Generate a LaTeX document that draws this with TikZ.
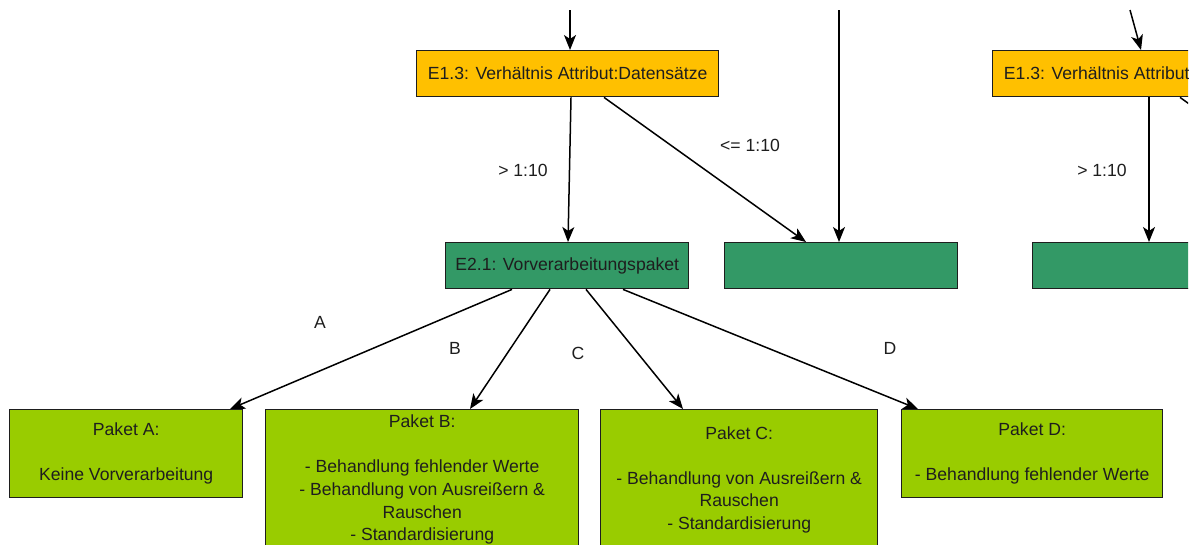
\documentclass[tikz,border=0pt]{standalone}
\usepackage{fontspec}
\setmainfont{Liberation Sans}
\usetikzlibrary{arrows.meta}
\definecolor{gold}{HTML}{FFC000}
\definecolor{teal}{HTML}{339966}
\definecolor{lime}{HTML}{99CC00}
\definecolor{ink}{HTML}{1E1E1E}
\tikzset{
  box/.style={draw=ink, line width=1.4pt, anchor=north west, inner sep=0pt, align=center,
    text=ink, font=\fontsize{17.6}{22.6}\selectfont},
  gbox/.style={box, fill=gold, minimum height=46pt},
  tbox/.style={box, fill=teal, minimum height=46pt},
  lbox/.style={box, fill=lime},
  arr/.style={draw=black, line width=1.5pt, -{Stealth[length=15pt,width=12pt,inset=4pt]}},
  lbl/.style={text=ink, font=\fontsize{17.6}{22}\selectfont, inner sep=0pt}
}
\begin{document}
\begin{tikzpicture}[x=1pt,y=-1pt]
\useasboundingbox (0,0) rectangle (1198,544);
\fill[white] (0,0) rectangle (1198,544);
\clip (0,0) rectangle (1188,544);
% top-level nodes
\node[gbox, minimum width=302pt] (e13L) at (416,50) {E1.3: Verhältnis Attribut:Datensätze};
\node[gbox, minimum width=302pt] (e13R) at (992,50) {E1.3: Verhältnis Attribut:Datensätze};
\node[tbox, minimum width=243pt] (e21) at (445,242) {E2.1: Vorverarbeitungspaket};
\node[tbox, minimum width=233pt] (gmid) at (724,242) {};
\node[tbox, minimum width=234pt] (gR) at (1032,242) {};
\node[lbox, minimum width=233pt, minimum height=88pt] (pA) at (9,409) {Paket A:\\[22.6pt]Keine Vorverarbeitung};
\node[lbox, minimum width=313pt, minimum height=140pt] (pB) at (265,409) {Paket B:\\[22.6pt]- Behandlung fehlender Werte\\- Behandlung von Ausreißern \&\\Rauschen\\- Standardisierung};
\node[lbox, minimum width=277pt, minimum height=140pt] (pC) at (600,409) {Paket C:\\[22.6pt]- Behandlung von Ausreißern \&\\Rauschen\\- Standardisierung};
\node[lbox, minimum width=261pt, minimum height=88pt] (pD) at (901,409) {Paket D:\\[22.6pt]- Behandlung fehlender Werte};
% free ends
\coordinate (t1) at (570,10);
\coordinate (t2) at (839,10);
\coordinate (t3) at (1130,10);
\coordinate (off) at (1382,242);
% connectors
\draw[arr] (t1) -- ([xshift=154pt]e13L.north west);
\draw[arr] (t2) -- (t2 |- gmid.north);
\draw[arr] (t3) -- ([xshift=149pt]e13R.north west);
\draw[arr] ([xshift=155pt]e13L.south west) -- ([xshift=123pt]e21.north west);
\draw[arr] ([xshift=188pt]e13L.south west) -- ([xshift=82pt]gmid.north west);
\draw[arr] ([xshift=157pt]e13R.south west) -- ([xshift=117pt]gR.north west);
\draw[arr] ([xshift=188pt]e13R.south west) -- (off);
\draw[arr] ([xshift=67pt]e21.south west) -- ([xshift=221pt]pA.north west);
\draw[arr] ([xshift=105pt]e21.south west) -- ([xshift=205pt]pB.north west);
\draw[arr] ([xshift=141pt]e21.south west) -- ([xshift=83pt]pC.north west);
\draw[arr] ([xshift=178pt]e21.south west) -- ([xshift=17pt]pD.north west);
% labels
\node[lbl] (l1) at (523,170) {> 1:10};
\node[lbl] (l2) at (750,145) {<= 1:10};
\node[lbl] (l3) at (1102,170) {> 1:10};
\node[lbl] (la) at (320,322) {A};
\node[lbl] (lb) at (455,348) {B};
\node[lbl] (lc) at (578,353) {C};
\node[lbl] (ld) at (890,348) {D};
\end{tikzpicture}
\end{document}
